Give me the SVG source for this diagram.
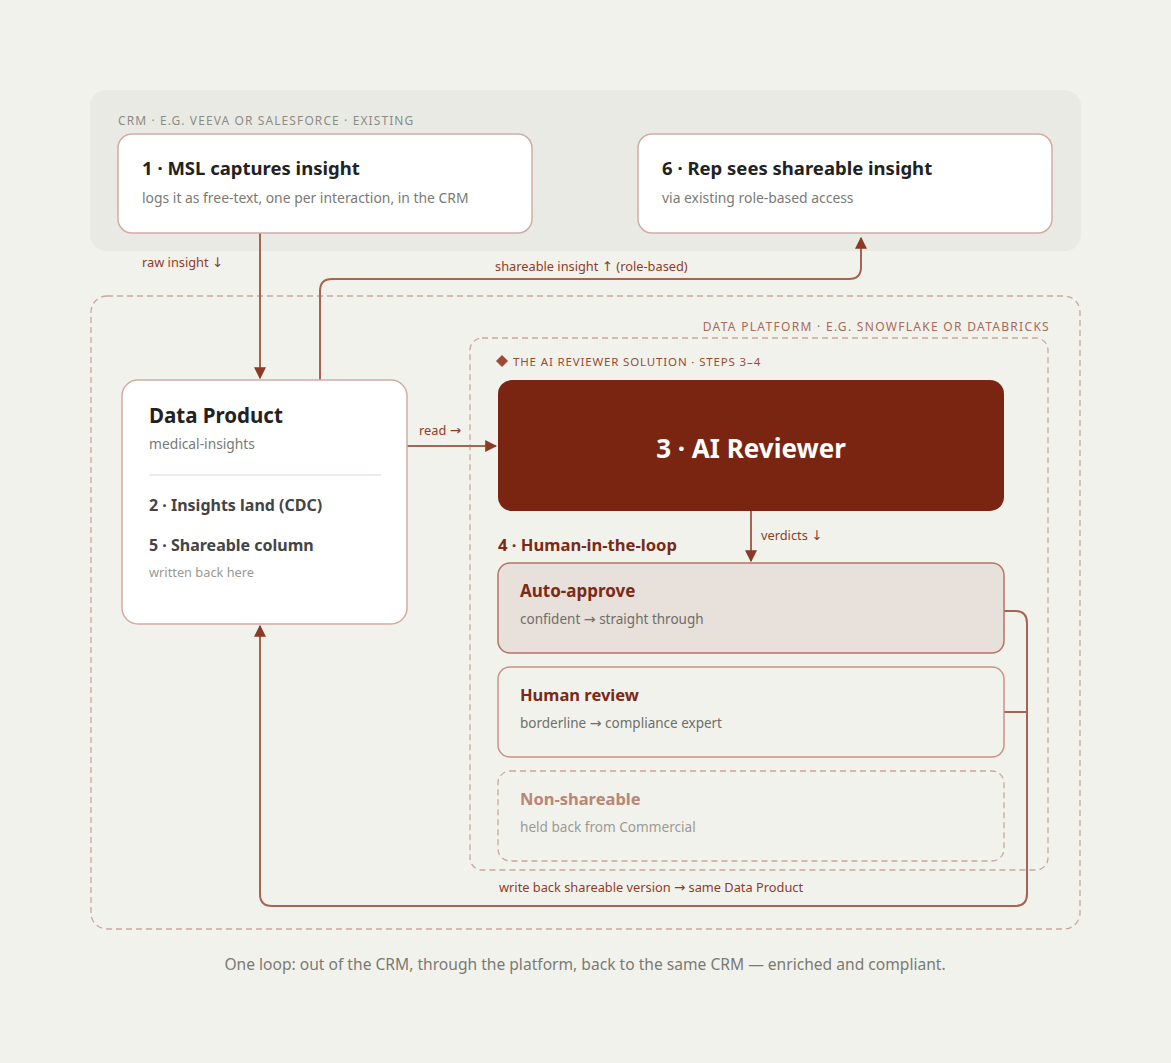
<svg xmlns="http://www.w3.org/2000/svg" width="1171" height="1063" viewBox="0 0 1171 1063">
<defs>
<style>
text{font-family:"Noto Sans","Liberation Sans",sans-serif}
.zone{font-size:12px;letter-spacing:1.1px}
.card{fill:#ffffff;stroke:#d2aca2;stroke-width:1.5}
.t1{font-size:18.5px;font-weight:700;fill:#222222}
.sub{font-size:13.5px;fill:#7a7a74}
.lbl{font-size:12.8px;fill:#8f3c28}
.ar{font-family:"DejaVu Sans",sans-serif;font-size:1.05em}
.wire{fill:none;stroke:#a86452;stroke-width:2}
.vt{font-size:16.5px;font-weight:700;fill:#7a2a16}
</style>
<marker id="ah" viewBox="0 0 10 10" refX="9" refY="5" markerWidth="12" markerHeight="12" markerUnits="userSpaceOnUse" orient="auto">
<path d="M0,0 L10,5 L0,10 z" fill="#8b3a26"/>
</marker>
</defs>
<rect width="1171" height="1063" fill="#f2f2ed"/>

<g id="crm-zone">
<rect x="90" y="90" width="991" height="161" rx="16" fill="#eaeae4"/>
<text x="118" y="125" class="zone" fill="#8c8c84">CRM · E.G. VEEVA OR SALESFORCE · EXISTING</text>
</g>

<g id="platform-zone">
<rect x="91" y="296" width="989" height="633" rx="16" fill="none" stroke="#cba69c" stroke-width="1.3" stroke-dasharray="6 4"/>
<text x="1050" y="331" class="zone" fill="#a86a5a" text-anchor="end" style="letter-spacing:1.3px">DATA PLATFORM · E.G. SNOWFLAKE OR DATABRICKS</text>
</g>

<g id="solution-zone">
<rect x="470" y="338" width="578" height="532" rx="12" fill="none" stroke="#cba69c" stroke-width="1.3" stroke-dasharray="6 4"/>
<path d="M502,355 L508,361 L502,367 L496,361 z" fill="#9a4a36"/>
<text x="513" y="366" class="zone" fill="#9a4a36" style="font-size:11.5px;letter-spacing:0.85px">THE AI REVIEWER SOLUTION · STEPS 3–4</text>
</g>

<g id="connectors">
<path class="wire" d="M260,233 V378" marker-end="url(#ah)"/>
<path class="wire" d="M320,380 V291 Q320,279 332,279 H849 Q861,279 861,267 V238" marker-end="url(#ah)"/>
<path class="wire" d="M407,446 H496" marker-end="url(#ah)"/>
<path class="wire" d="M751,511 V561" marker-end="url(#ah)"/>
<path class="wire" d="M1004,611 H1015 Q1027,611 1027,623 V894 Q1027,906 1015,906 H272 Q260,906 260,894 V626" marker-end="url(#ah)"/>
<path class="wire" d="M1004,712 H1027"/>
<text x="142" y="267" class="lbl">raw insight <tspan class="ar">↓</tspan></text>
<text x="495" y="271" class="lbl">shareable insight <tspan class="ar">↑</tspan> (role-based)</text>
<text x="419" y="435" class="lbl">read <tspan class="ar">→</tspan></text>
<text x="761" y="540" class="lbl">verdicts <tspan class="ar">↓</tspan></text>
<text x="499" y="892" class="lbl">write back shareable version <tspan class="ar">→</tspan> same Data Product</text>
</g>

<g id="node-1">
<rect x="118" y="134" width="414" height="99" rx="14" class="card"/>
<text x="142" y="175" class="t1">1 · MSL captures insight</text>
<text x="142" y="203" class="sub" style="font-size:13.9px">logs it as free-text, one per interaction, in the CRM</text>
</g>

<g id="node-6">
<rect x="638" y="134" width="414" height="99" rx="14" class="card"/>
<text x="662" y="175" class="t1">6 · Rep sees shareable insight</text>
<text x="662" y="203" class="sub" style="font-size:13.9px">via existing role-based access</text>
</g>

<g id="node-data-product">
<rect x="122" y="380" width="285" height="244" rx="16" class="card"/>
<text x="149" y="423" style="font-size:20.5px;font-weight:700;fill:#222222">Data Product</text>
<text x="149" y="449" class="sub" style="font-size:13.8px">medical-insights</text>
<line x1="149" y1="475" x2="381" y2="475" stroke="#e2d8d2" stroke-width="1.2"/>
<text x="149" y="511" style="font-size:16px;font-weight:700;fill:#444444">2 · Insights land (CDC)</text>
<text x="149" y="551" style="font-size:16px;font-weight:700;fill:#444444">5 · Shareable column</text>
<text x="149" y="577" style="font-size:12.8px;fill:#999994">written back here</text>
</g>

<g id="node-ai-reviewer">
<rect x="498" y="380" width="506" height="131" rx="14" fill="#7a2512"/>
<text x="751" y="458" text-anchor="middle" style="font-size:26px;font-weight:700;fill:#ffffff">3 · AI Reviewer</text>
</g>

<g id="node-hitl-title">
<text x="498" y="551" class="vt" style="font-size:16.6px">4 · Human-in-the-loop</text>
</g>

<g id="node-auto-approve">
<rect x="498" y="563" width="506" height="90" rx="12" fill="#e8e0da" stroke="#b57464" stroke-width="1.5"/>
<text x="520" y="597" class="vt" style="font-size:17px">Auto-approve</text>
<text x="520" y="624" class="sub" style="fill:#6e6e68">confident <tspan class="ar">→</tspan> straight through</text>
</g>

<g id="node-human-review">
<rect x="498" y="667" width="506" height="90" rx="12" fill="#f2f2ed" stroke="#c99487" stroke-width="1.5"/>
<text x="520" y="701" class="vt">Human review</text>
<text x="520" y="728" class="sub" style="fill:#6e6e68">borderline <tspan class="ar">→</tspan> compliance expert</text>
</g>

<g id="node-non-shareable">
<rect x="498" y="771" width="506" height="90" rx="12" fill="none" stroke="#cba69c" stroke-width="1.3" stroke-dasharray="6 4"/>
<text x="520" y="805" class="vt" style="fill:#b98676">Non-shareable</text>
<text x="520" y="832" class="sub" style="fill:#9a9a94;font-size:13.6px">held back from Commercial</text>
</g>

<text x="585" y="970" text-anchor="middle" style="font-size:15.6px;fill:#7a7a72">One loop: out of the CRM, through the platform, back to the same CRM — enriched and compliant.</text>
</svg>
